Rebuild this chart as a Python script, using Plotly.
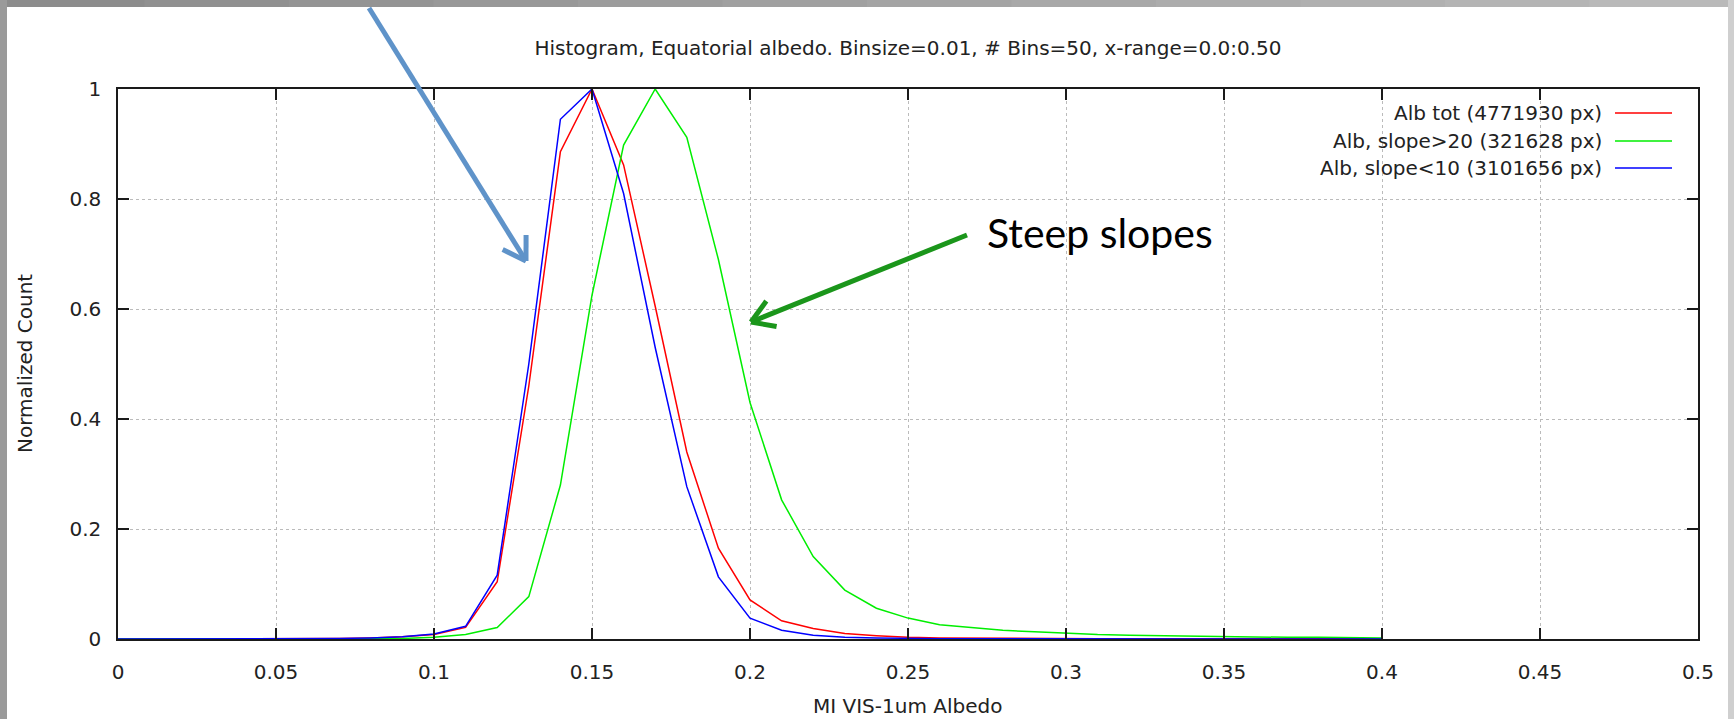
import math
import plotly.graph_objects as go

# ---- data ----
albedo_bins = [0.00, 0.01, 0.02, 0.03, 0.04, 0.05, 0.06, 0.07, 0.08, 0.09,
               0.10, 0.11, 0.12, 0.13, 0.14, 0.15, 0.16, 0.17, 0.18, 0.19,
               0.20, 0.21, 0.22, 0.23, 0.24, 0.25, 0.26, 0.27, 0.28, 0.29,
               0.30, 0.31, 0.32, 0.33, 0.34, 0.35, 0.36, 0.37, 0.38, 0.39,
               0.40]

alb_tot = [0, 0, 0, 0, 0, 0, 0.0005, 0.001, 0.002, 0.004,
           0.008, 0.021, 0.104, 0.46, 0.886, 1.0, 0.862, 0.605, 0.34, 0.165,
           0.071, 0.033, 0.019, 0.010, 0.006, 0.003, 0.002, 0.0015, 0.001, 0.0005,
           0.0005, 0.0005, 0.0005, 0.0005, 0.0005, 0.0005, 0.0005, 0.0005, 0.0005, 0.0005,
           0.0005]

alb_steep = [0, 0, 0, 0, 0, 0, 0, 0, 0.0005, 0.001,
             0.003, 0.008, 0.021, 0.077, 0.28, 0.625, 0.898, 1.0, 0.912, 0.69,
             0.43, 0.253, 0.150, 0.089, 0.056, 0.038, 0.026, 0.021, 0.016, 0.013,
             0.010, 0.008, 0.007, 0.006, 0.005, 0.004, 0.004, 0.003, 0.003, 0.002,
             0.002]

alb_flat = [0, 0, 0, 0, 0, 0, 0.0005, 0.001, 0.002, 0.004,
            0.009, 0.023, 0.116, 0.50, 0.945, 1.0, 0.81, 0.53, 0.277, 0.113,
            0.038, 0.016, 0.007, 0.003, 0.002, 0.001, 0.0005, 0.0005, 0.0005, 0.0005,
            0, 0, 0, 0, 0, 0, 0, 0, 0, 0,
            0]

series_names = ["Alb tot (4771930 px)", "Alb, slope>20 (321628 px)", "Alb, slope<10 (3101656 px)"]
series_colors = ["#ff0000", "#00ee00", "#0000ff"]
series_values = [alb_tot, alb_steep, alb_flat]

x_ticks = [0, 0.05, 0.1, 0.15, 0.2, 0.25, 0.3, 0.35, 0.4, 0.45, 0.5]
y_ticks = [0, 0.2, 0.4, 0.6, 0.8, 1]

title_text = "Histogram, Equatorial albedo. Binsize=0.01, # Bins=50, x-range=0.0:0.50"
x_title = "MI VIS-1um Albedo"
y_title = "Normalized Count"
callout_text = "Steep slopes"

# ---- layout geometry (pixels) ----
W, H = 1734, 719
L, R, T, B = 118, 1698, 89, 639
PW, PH = R - L, B - T
FONT = "DejaVu Sans"
TXT = "#222222"


def pp(px, py):
    return (px - L) / PW, (B - py) / PH


fig = go.Figure()
for name, col, vals in zip(series_names, series_colors, series_values):
    fig.add_trace(go.Scatter(x=albedo_bins, y=vals, mode="lines", name=name,
                             line=dict(color=col, width=1.5), showlegend=False))

shapes = []
annotations = []

# grey slide frame
n_seg = 12
for i in range(n_seg):
    g = int(140 + (185 - 140) * i / (n_seg - 1))
    x0, _ = pp(W * i / n_seg, 0)
    x1, _ = pp(W * (i + 1) / n_seg + 1, 0)
    _, y0 = pp(0, 0)
    _, y1 = pp(0, 7)
    shapes.append(dict(type="rect", xref="paper", yref="paper", x0=x0, x1=x1, y0=y1, y1=y0,
                       line=dict(width=0), fillcolor=f"rgb({g},{g},{g})", layer="below"))
xa, ya = pp(0, 0)
xb, yb = pp(7, H)
shapes.append(dict(type="rect", xref="paper", yref="paper", x0=xa, x1=xb, y0=yb, y1=ya,
                   line=dict(width=0), fillcolor="#9a9a9a", layer="below"))
xa, ya = pp(W - 6, 0)
xb, yb = pp(W, H)
shapes.append(dict(type="rect", xref="paper", yref="paper", x0=xa, x1=xb, y0=yb, y1=ya,
                   line=dict(width=0), fillcolor="#cfcfcf", layer="below"))


def arrow(tail, tip, color, width=5, barb=26, ang=32):
    dx, dy = tip[0] - tail[0], tip[1] - tail[1]
    d = math.hypot(dx, dy)
    ux, uy = -dx / d, -dy / d
    segs = [(tail, tip)]
    for s in (1, -1):
        a = math.radians(ang * s)
        bx = ux * math.cos(a) - uy * math.sin(a)
        by = ux * math.sin(a) + uy * math.cos(a)
        segs.append((tip, (tip[0] + bx * barb, tip[1] + by * barb)))
    for p0, p1 in segs:
        x0, y0 = pp(*p0)
        x1, y1 = pp(*p1)
        shapes.append(dict(type="line", xref="paper", yref="paper", x0=x0, y0=y0, x1=x1, y1=y1,
                           line=dict(color=color, width=width), layer="above"))


arrow((369, 8), (526, 261), "#5f93c9")
arrow((967, 235), (751, 322), "#1b961b")

cx, cy = pp(985, 232)
annotations.append(dict(text=callout_text, xref="paper", yref="paper", x=cx, y=cy,
                        xanchor="left", yanchor="middle", showarrow=False,
                        font=dict(family="Lato", size=41, color="#000000")))

# custom legend (text right, sample line on the right)
leg_rows = [113, 141, 168]
for name, col, ry in zip(series_names, series_colors, leg_rows):
    tx, ty = pp(1604, ry)
    annotations.append(dict(text=name, xref="paper", yref="paper", x=tx, y=ty,
                            xanchor="right", yanchor="middle", showarrow=False,
                            font=dict(family=FONT, size=20, color=TXT)))
    lx0, ly = pp(1615, ry)
    lx1, _ = pp(1672, ry)
    shapes.append(dict(type="line", xref="paper", yref="paper", x0=lx0, x1=lx1, y0=ly, y1=ly,
                       line=dict(color=col, width=1.5)))

# axis titles
ax_, ay_ = pp(25, (T + B) / 2)
annotations.append(dict(text=y_title, xref="paper", yref="paper", x=ax_, y=ay_, textangle=-90,
                        xanchor="center", yanchor="middle", showarrow=False,
                        font=dict(family=FONT, size=20, color=TXT)))
bx_, by_ = pp(907, 706)
annotations.append(dict(text=x_title, xref="paper", yref="paper", x=bx_, y=by_,
                        xanchor="center", yanchor="middle", showarrow=False,
                        font=dict(family=FONT, size=20, color=TXT)))

axis_common = dict(showline=True, linecolor="#1a1a1a", linewidth=1.5, mirror="ticks",
                   ticks="inside", ticklen=11, tickwidth=1.5, tickcolor="#1a1a1a",
                   showgrid=True, gridcolor="#bbbbbb", griddash="dot", gridwidth=1,
                   zeroline=False, tickfont=dict(family=FONT, size=20, color=TXT))

fig.update_layout(
    width=W, height=H,
    margin=dict(l=L, r=W - R, t=T, b=H - B),
    paper_bgcolor="white", plot_bgcolor="white",
    title=dict(text=title_text, x=0.5, xref="paper", xanchor="center",
               y=1 - 48 / H, yref="container", yanchor="middle",
               font=dict(family=FONT, size=20, color=TXT)),
    xaxis=dict(range=[0, 0.5], tickvals=x_ticks, ticktext=[f"{v:g}" for v in x_ticks],
               ticklabelstandoff=14, **axis_common),
    yaxis=dict(range=[0, 1], tickvals=y_ticks, ticktext=[f"{v:g}" for v in y_ticks],
               ticklabelstandoff=11, **axis_common),
    shapes=shapes,
    annotations=annotations,
    showlegend=False,
)

fig.write_html("out.html", config={"displayModeBar": False},
               post_script="document.body.style.margin='0';document.body.style.overflow='hidden';")
